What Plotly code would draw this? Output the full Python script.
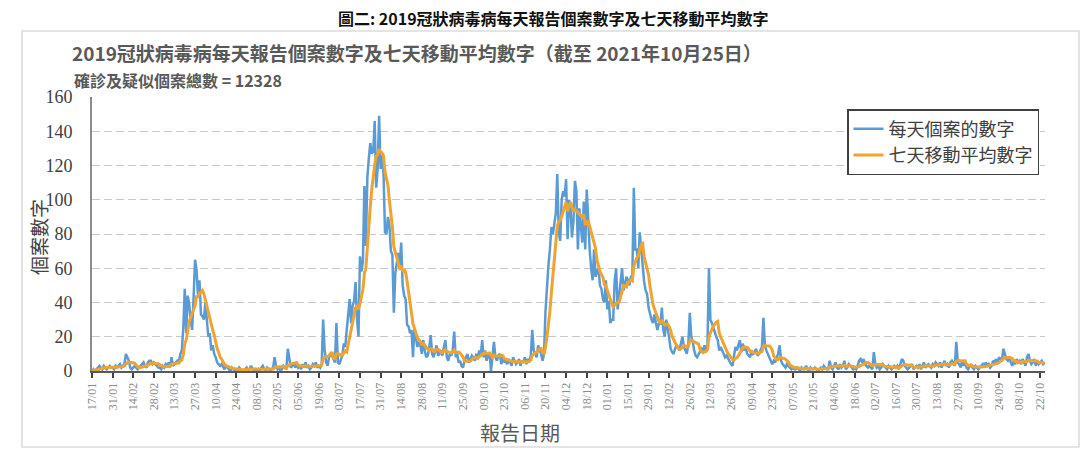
import plotly.graph_objects as go
import pandas as pd

# ---------------- data ----------------
start_date = "2020-01-17"

# daily reported cases, one row per fortnight starting at each tick date
daily_cases = (
    [0, 1, 0, 1, 2, 3, 2, 1, 3, 2, 1, 2, 3, 2]            # 17/01/2020
    + [2, 1, 3, 2, 3, 4, 2, 3, 4, 10, 8, 6, 2, 1]         # 31/01
    + [2, 3, 2, 1, 2, 3, 4, 5, 3, 2, 5, 6, 6, 4]          # 14/02
    + [5, 4, 3, 2, 2, 1, 3, 2, 4, 3, 5, 2, 8, 3]          # 28/02
    + [4, 5, 6, 5, 10, 12, 25, 48, 22, 44, 39, 30, 24, 43]  # 13/03
    + [65, 59, 44, 53, 33, 32, 30, 40, 28, 20, 22, 12, 15, 10]  # 27/03
    + [8, 5, 4, 3, 4, 2, 1, 3, 2, 1, 0, 2, 1, 0]          # 10/04
    + [1, 0, 2, 1, 0, 0, 1, 2, 0, 1, 3, 1, 0, 1]          # 24/04
    + [0, 1, 0, 2, 3, 1, 0, 2, 1, 0, 1, 2, 8, 3]          # 08/05
    + [1, 2, 0, 1, 3, 2, 1, 13, 6, 2, 3, 5, 2, 4]         # 22/05
    + [2, 3, 1, 4, 2, 5, 2, 3, 1, 2, 4, 3, 5, 2]          # 05/06
    + [3, 2, 4, 30, 12, 5, 3, 8, 10, 9, 7, 5, 28, 5]      # 19/06
    + [4, 6, 9, 16, 14, 24, 34, 42, 28, 38, 41, 52, 30, 20]  # 03/07
    + [67, 58, 64, 108, 73, 113, 124, 133, 127, 128, 146, 107, 118, 149]  # 17/07
    + [118, 126, 115, 81, 80, 90, 85, 70, 68, 34, 57, 62, 69, 60]  # 31/07
    + [75, 50, 44, 42, 27, 26, 22, 24, 8, 25, 18, 14, 17, 15]  # 14/08
    + [10, 18, 12, 8, 9, 13, 21, 10, 8, 12, 15, 9, 10, 12]  # 28/08
    + [9, 14, 18, 8, 6, 10, 9, 12, 23, 8, 10, 5, 6, 3]    # 11/09
    + [2, 6, 8, 10, 5, 7, 9, 8, 6, 10, 7, 12, 9, 18]      # 25/09
    + [8, 12, 6, 9, 11, 0, 10, 17, 8, 6, 9, 10, 4, 8]     # 09/10
    + [5, 6, 4, 7, 5, 3, 8, 6, 4, 5, 7, 3, 6, 5]          # 23/10
    + [8, 4, 7, 6, 9, 24, 12, 10, 8, 15, 13, 10, 6, 10]   # 06/11
    + [35, 51, 62, 71, 84, 80, 88, 92, 115, 81, 76, 100, 105, 102]  # 20/11
    + [112, 77, 100, 95, 78, 88, 111, 105, 71, 95, 85, 75, 99, 71]  # 04/12
    + [106, 85, 71, 60, 53, 71, 55, 58, 60, 50, 48, 42, 40, 53]  # 18/12
    + [36, 41, 28, 30, 30, 53, 60, 36, 44, 50, 60, 47, 52, 55]  # 01/01/2021
    + [53, 50, 55, 56, 107, 71, 71, 60, 81, 71, 60, 52, 47, 45]  # 15/01
    + [37, 33, 30, 28, 33, 28, 24, 28, 27, 37, 24, 20, 30, 25]  # 29/01
    + [18, 13, 11, 10, 13, 15, 14, 12, 16, 20, 14, 12, 10, 16]  # 12/02
    + [34, 20, 17, 12, 9, 8, 10, 11, 13, 12, 15, 11, 15, 60]  # 26/02
    + [30, 28, 25, 22, 20, 18, 12, 14, 12, 10, 8, 9, 7, 6]  # 12/03
    + [4, 3, 8, 14, 12, 16, 18, 11, 16, 12, 14, 10, 9, 8]  # 26/03
    + [12, 10, 11, 13, 9, 10, 12, 14, 31, 15, 12, 10, 8, 6]  # 09/04
    + [4, 6, 5, 8, 10, 15, 6, 4, 3, 2, 4, 3, 2, 1]        # 23/04
    + [2, 1, 1, 2, 1, 0, 2, 1, 1, 3, 1, 0, 2, 1]          # 07/05
    + [1, 2, 1, 0, 1, 2, 1, 3, 2, 1, 1, 6, 2, 1]          # 21/05
    + [3, 5, 2, 1, 4, 2, 3, 6, 1, 2, 4, 3, 2, 1]          # 04/06
    + [2, 1, 3, 6, 7, 5, 7, 4, 3, 2, 3, 2, 1, 11]         # 18/06
    + [4, 2, 3, 1, 2, 4, 3, 2, 1, 3, 2, 1, 2, 3]          # 02/07
    + [2, 3, 1, 4, 7, 6, 3, 2, 1, 2, 3, 4, 1, 2]          # 16/07
    + [3, 2, 4, 1, 3, 5, 2, 3, 4, 3, 2, 4, 3, 5]          # 30/07
    + [4, 3, 5, 2, 4, 6, 3, 4, 2, 5, 6, 4, 3, 17]         # 13/08
    + [5, 4, 2, 6, 3, 5, 2, 1, 3, 4, 2, 1, 3, 2]          # 27/08
    + [1, 2, 3, 4, 2, 5, 3, 4, 2, 3, 6, 5, 7, 4]          # 10/09
    + [8, 7, 6, 13, 9, 7, 6, 8, 5, 3, 6, 4, 7, 5]         # 24/09
    + [6, 4, 7, 5, 3, 8, 10, 6, 4, 5, 7, 3, 6, 4]         # 08/10
    + [5, 6, 4, 5]                                        # 22/10
)

tick_labels = [
    "17/01", "31/01", "14/02", "28/02", "13/03", "27/03", "10/04", "24/04",
    "08/05", "22/05", "05/06", "19/06", "03/07", "17/07", "31/07", "14/08",
    "28/08", "11/09", "25/09", "09/10", "23/10", "06/11", "20/11", "04/12",
    "18/12", "01/01", "15/01", "29/01", "12/02", "26/02", "12/03", "26/03",
    "09/04", "23/04", "07/05", "21/05", "04/06", "18/06", "02/07", "16/07",
    "30/07", "13/08", "27/08", "10/09", "24/09", "08/10", "22/10",
]

series_names = ["每天個案的數字", "七天移動平均數字"]

dates = pd.date_range(start_date, periods=len(daily_cases), freq="D")
moving_avg = pd.Series(daily_cases).rolling(7, min_periods=1).mean()
tick_dates = pd.date_range(start_date, periods=len(tick_labels), freq="14D")

# ---------------- layout helpers ----------------
W, H = 1091, 465
L, R, T, B = 92, 46, 97, 94
PW, PH = W - L - R, H - T - B


def px(x):
    return (x - L) / PW


def py(y):
    return (H - B - y) / PH


CJK = "Noto Sans CJK TC"
SERIF = "Liberation Serif"

fig = go.Figure()
fig.add_trace(go.Scatter(
    x=dates, y=daily_cases, mode="lines", name=series_names[0],
    legendgroup="a",
    line=dict(color="#5b9bd5", width=2.5),
))
fig.add_trace(go.Scatter(
    x=dates, y=moving_avg, mode="lines", name=series_names[1],
    legendgroup="b",
    line=dict(color="#f0a32f", width=3),
))

fig.update_layout(
    width=W, height=H,
    margin=dict(l=L, r=R, t=T, b=B),
    paper_bgcolor="white", plot_bgcolor="white",
    showlegend=True,
    legend=dict(
        x=px(847), y=py(109), xanchor="left", yanchor="top",
        bordercolor="#404040", borderwidth=1.5, bgcolor="white",
        font=dict(family=CJK, size=18, color="#404040"),
        tracegroupgap=9, traceorder="normal",
    ),
    xaxis=dict(
        type="date",
        range=["2020-01-17", "2021-10-25 06:00"],
        tickvals=tick_dates, ticktext=tick_labels,
        tickangle=-90,
        tickfont=dict(family=SERIF, size=12, color="#8c8c8c"),
        ticks="outside", ticklen=5, tickwidth=1.5, tickcolor="#404040",
        showline=True, linecolor="#595959", linewidth=2,
        showgrid=False, zeroline=False,
    ),
    yaxis=dict(
        range=[0, 160], tickvals=[0, 20, 40, 60, 80, 100, 120, 140, 160],
        tickfont=dict(family=SERIF, size=18, color="#404040"),
        ticks="", ticklabelstandoff=14,
        showline=True, linecolor="#8c8c8c", linewidth=2,
        showgrid=True, gridcolor="#c8c8c8", gridwidth=1, griddash="8px,4px",
        zeroline=False,
    ),
    shapes=[dict(
        type="rect", xref="paper", yref="paper",
        x0=px(22), x1=px(1079), y0=py(447), y1=py(31),
        line=dict(color="#dcdcdc", width=1.5), fillcolor="rgba(0,0,0,0)",
        layer="below",
    )],
    annotations=[
        dict(text="<b>圖二: 2019冠狀病毒病每天報告個案數字及七天移動平均數字</b>",
             xref="paper", yref="paper", x=px(553), y=py(18),
             xanchor="center", yanchor="middle", showarrow=False,
             font=dict(family=CJK, size=16, color="#111111")),
        dict(text="<b>2019冠狀病毒病每天報告個案數字及七天移動平均數字（截至 2021年10月25日）</b>",
             xref="paper", yref="paper", x=px(70), y=py(53),
             xanchor="left", yanchor="middle", showarrow=False,
             font=dict(family=CJK, size=19, color="#595959")),
        dict(text="<b>確診及疑似個案總數 = 12328</b>",
             xref="paper", yref="paper", x=px(72), y=py(80),
             xanchor="left", yanchor="middle", showarrow=False,
             font=dict(family=CJK, size=16, color="#595959")),
        dict(text="個案數字",
             xref="paper", yref="paper", x=px(38), y=py(237),
             xanchor="center", yanchor="middle", showarrow=False, textangle=-90,
             font=dict(family=CJK, size=19, color="#404040")),
        dict(text="報告日期",
             xref="paper", yref="paper", x=px(520), y=py(432),
             xanchor="center", yanchor="middle", showarrow=False,
             font=dict(family=CJK, size=20, color="#595959")),
    ],
)

fig.write_html("out.html")
